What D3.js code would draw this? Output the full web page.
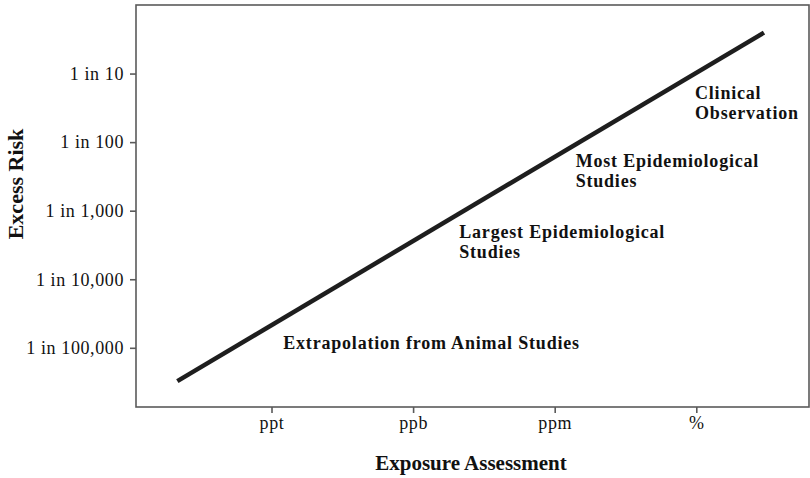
<!DOCTYPE html>
<html>
<head>
<meta charset="utf-8">
<script src="https://cdn.jsdelivr.net/npm/d3@7"></script>
<style>
  body { margin: 0; background: #fff; }
  svg { display: block; font-family: "Liberation Serif", "Times New Roman", serif; }
</style>
</head>
<body>
<div id="chart"></div>
<script>
// exposure categories (evenly spaced on the x axis, by index)
var exposureLabels = ["ppt", "ppb", "ppm", "%"];
var exposureIndex = [0, 1, 2, 3];

// risk ticks
var riskTicks = [1e-1, 1e-2, 1e-3, 1e-4, 1e-5];
var riskLabels = ["1 in 10", "1 in 100", "1 in 1,000", "1 in 10,000", "1 in 100,000"];

// dose-response line (exposure index, excess risk)
var lineExposure = [-0.665, 3.478];
var lineRisk = [3.27e-6, 0.396];

// region annotations
var noteText = [
  ["Clinical", "Observation"],
  ["Most Epidemiological", "Studies"],
  ["Largest Epidemiological", "Studies"],
  ["Extrapolation from Animal Studies"]
];
var noteExposure = [2.991, 2.148, 1.326, 0.083];
var noteRisk = [0.0422, 0.00427, 0.000406, 9.57e-6];

var W = 810, H = 478;
var margin = {top: 5, right: 1, bottom: 71, left: 136};
var width = W - margin.left - margin.right,
    height = H - margin.top - margin.bottom;

var svg = d3.select("#chart").append("svg")
  .attr("width", W)
  .attr("height", H);

var g = svg.append("g")
  .attr("transform", "translate(" + margin.left + "," + margin.top + ")");

// scales
var x = d3.scaleLinear()
  .domain([-0.957, 3.796])
  .range([0, width]);
var y = d3.scaleLog()
  .domain([1.37e-6, 1])
  .range([height, 0]);

// frame
g.append("rect")
  .attr("x", 0)
  .attr("y", 0)
  .attr("width", width)
  .attr("height", height)
  .attr("fill", "none")
  .attr("stroke", "#5a5a5a")
  .attr("stroke-width", 1.6);

// axes
var yAxis = g.append("g")
  .call(d3.axisLeft(y)
    .tickValues(riskTicks)
    .tickSize(6)
    .tickPadding(6)
    .tickFormat(function(d, i) { return riskLabels[i]; }));

var xAxis = g.append("g")
  .attr("transform", "translate(0," + height + ")")
  .call(d3.axisBottom(x)
    .tickValues(exposureIndex)
    .tickSize(6)
    .tickPadding(3)
    .tickFormat(function(d, i) { return exposureLabels[i]; }));

[yAxis, xAxis].forEach(function(a) {
  a.select(".domain").remove();
  a.selectAll(".tick line").attr("stroke", "#5a5a5a").attr("stroke-width", 1.6);
  a.selectAll(".tick text")
    .attr("fill", "#111")
    .style("font-family", "'Liberation Serif', serif")
    .style("font-size", "18px")
    .style("letter-spacing", "0.6px");
});

// axis titles
svg.append("text")
  .attr("x", 471)
  .attr("y", 470)
  .attr("text-anchor", "middle")
  .attr("font-weight", "bold")
  .attr("font-size", 21)
  .attr("fill", "#111")
  .text("Exposure Assessment");

svg.append("text")
  .attr("transform", "translate(23,184) rotate(-90)")
  .attr("text-anchor", "middle")
  .attr("font-weight", "bold")
  .attr("font-size", 22)
  .attr("fill", "#111")
  .text("Excess Risk");

// the line
var pts = lineExposure.map(function(e, i) { return [e, lineRisk[i]]; });
g.append("path")
  .datum(pts)
  .attr("fill", "none")
  .attr("stroke", "#1e1e1e")
  .attr("stroke-width", 4.5)
  .attr("d", d3.line()
    .x(function(d) { return x(d[0]); })
    .y(function(d) { return y(d[1]); }));

// annotations, one text per line
noteText.forEach(function(lines, i) {
  lines.forEach(function(s, j) {
    g.append("text")
      .attr("x", x(noteExposure[i]))
      .attr("y", y(noteRisk[i]) + j * 20)
      .attr("font-weight", "bold")
      .attr("font-size", 18)
      .attr("letter-spacing", 0.8)
      .attr("fill", "#111")
      .text(s);
  });
});
</script>
</body>
</html>
